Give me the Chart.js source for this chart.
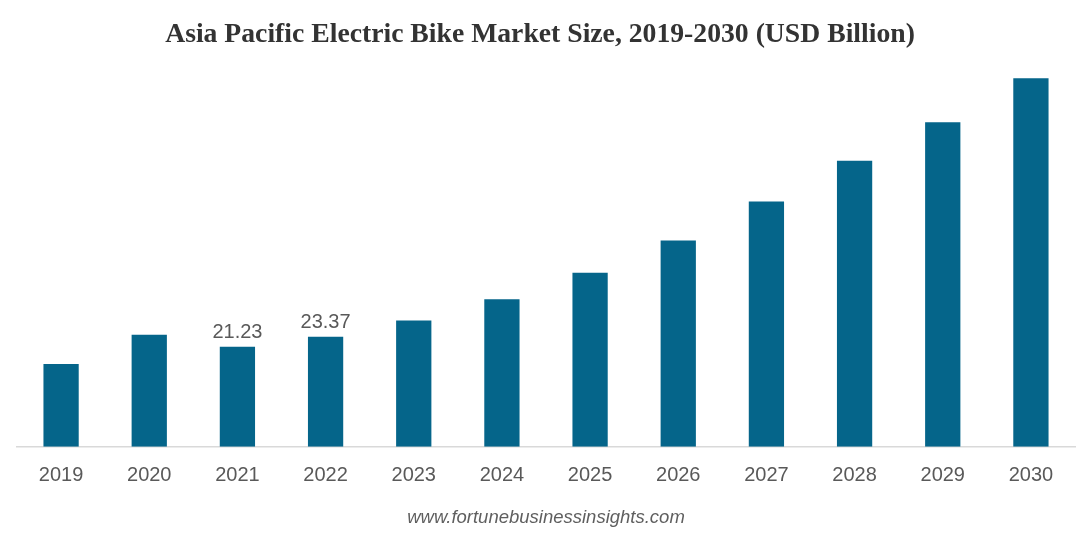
<!DOCTYPE html>
<html>
<head>
<meta charset="utf-8">
<script src="https://cdn.jsdelivr.net/npm/chart.js@4"></script>
<style>
html,body{margin:0;padding:0;background:#fff;}
#wrap{width:1080px;height:537px;position:relative;}
</style>
</head>
<body>
<div id="wrap"><canvas id="c" width="1080" height="537"></canvas></div>
<script>
const years = ['2019','2020','2021','2022','2023','2024','2025','2026','2027','2028','2029','2030'];
const marketSize = [17.56, 23.78, 21.23, 23.37, 26.8, 31.35, 36.94, 43.8, 52.08, 60.72, 68.9, 78.27];
const labeledYears = ['2021','2022'];
const titleText = 'Asia Pacific Electric Bike Market Size, 2019-2030 (USD Billion)';
const sourceText = 'www.fortunebusinessinsights.com';

const valueLabels = {
  id: 'valueLabels',
  afterDatasetsDraw(chart) {
    const ctx = chart.ctx;
    const meta = chart.getDatasetMeta(0);
    ctx.save();
    ctx.font = '20px "Liberation Sans", Arial, sans-serif';
    ctx.fillStyle = '#595959';
    ctx.textAlign = 'center';
    ctx.textBaseline = 'alphabetic';
    meta.data.forEach((bar, i) => {
      if (labeledYears.includes(years[i])) {
        ctx.fillText(marketSize[i].toFixed(2), bar.x, bar.y - 9);
      }
    });
    ctx.restore();
  }
};

const pageTitle = {
  id: 'pageTitle',
  afterDraw(chart) {
    const ctx = chart.ctx;
    ctx.save();
    ctx.font = 'bold 27.7px "Liberation Serif", "Times New Roman", serif';
    ctx.fillStyle = '#333333';
    ctx.textAlign = 'center';
    ctx.textBaseline = 'alphabetic';
    ctx.fillText(titleText, 540, 42);
    ctx.restore();
  }
};

new Chart(document.getElementById('c'), {
  type: 'bar',
  data: {
    labels: years,
    datasets: [{
      data: marketSize,
      backgroundColor: '#05658a',
      borderWidth: 0,
      barPercentage: 0.8,
      categoryPercentage: 0.5
    }]
  },
  options: {
    responsive: false,
    animation: false,
    layout: { padding: { left: 17, right: 5, top: 70, bottom: 0 } },
    plugins: {
      legend: { display: false },
      tooltip: { enabled: false },
      title: { display: false },
      subtitle: {
        display: true,
        position: 'bottom',
        text: sourceText,
        color: '#5f5f5f',
        font: { family: '"Liberation Sans", Arial, sans-serif', size: 18.5, style: 'italic', lineHeight: 1.2 },
        padding: { top: 2, bottom: 8 }
      }
    },
    scales: {
      x: {
        grid: { display: false, drawTicks: false },
        border: { display: true, color: '#d9d9d9', width: 1.5 },
        ticks: {
          color: '#595959',
          padding: 17,
          font: { family: '"Liberation Sans", Arial, sans-serif', size: 20 }
        }
      },
      y: {
        display: false,
        min: 0,
        max: 80
      }
    }
  },
  plugins: [valueLabels, pageTitle]
});
</script>
</body>
</html>
